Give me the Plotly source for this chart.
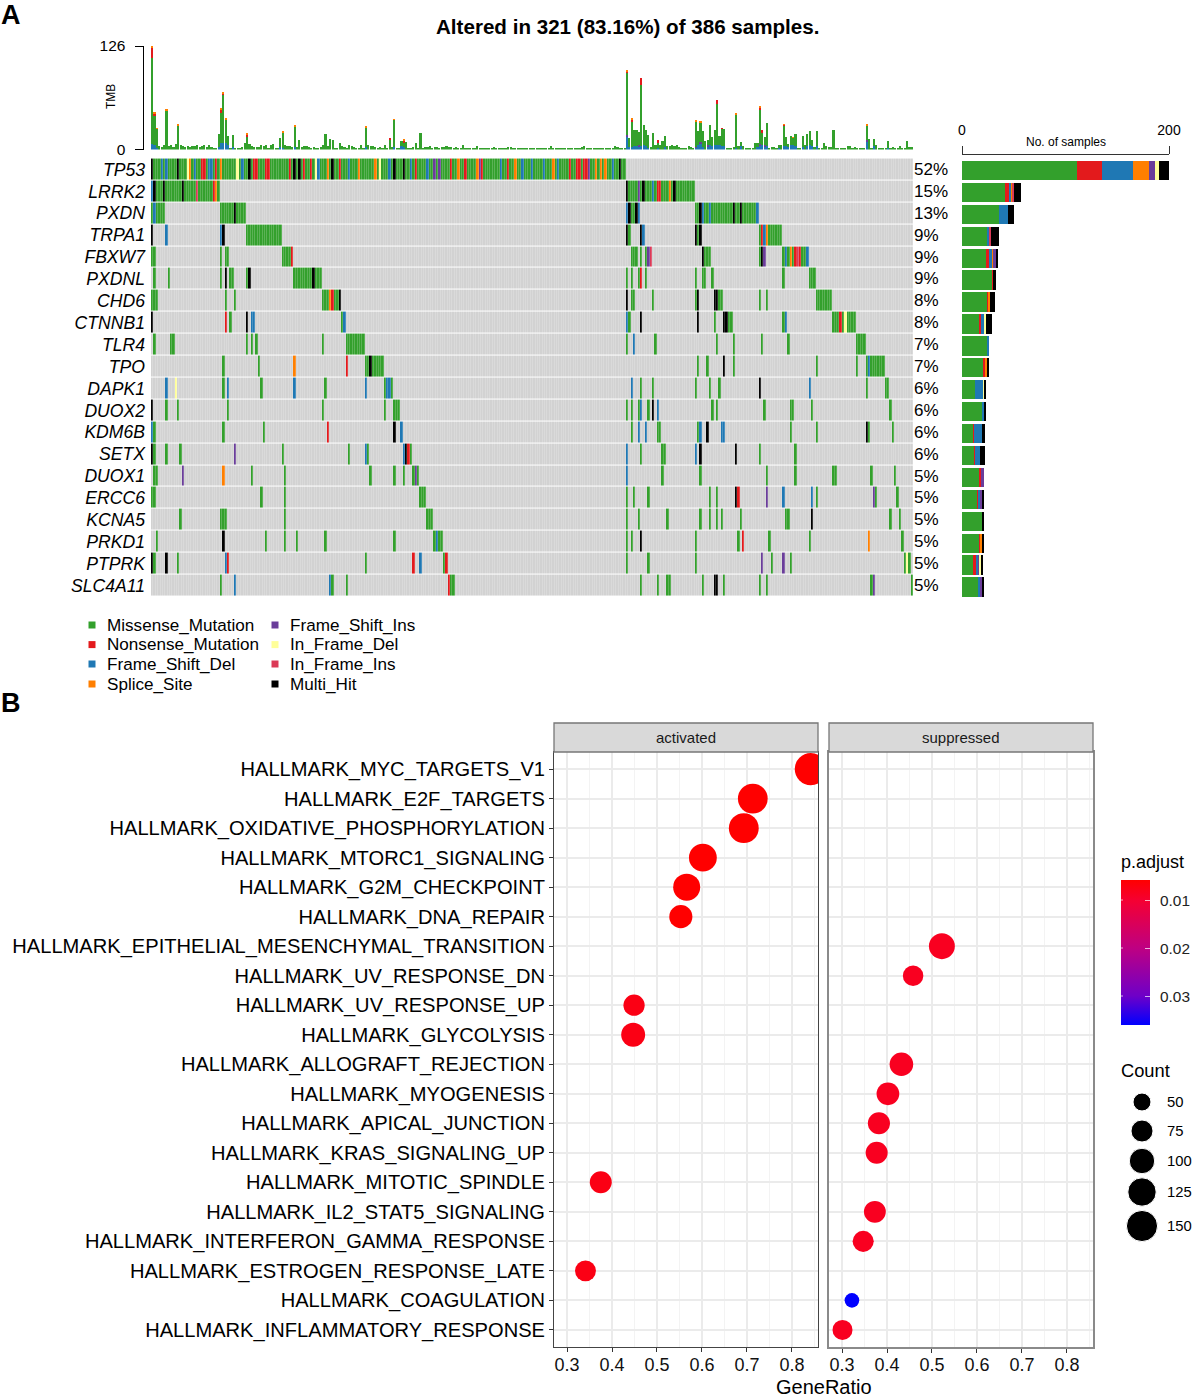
import re
import plotly.graph_objects as go

W = 1193
H = 1397

genes = ["TP53", "LRRK2", "PXDN", "TRPA1", "FBXW7", "PXDNL", "CHD6", "CTNNB1", "TLR4", "TPO",
         "DAPK1", "DUOX2", "KDM6B", "SETX", "DUOX1", "ERCC6", "KCNA5", "PRKD1", "PTPRK", "SLC4A11"]
percent = ["52%", "15%", "13%", "9%", "9%", "9%", "8%", "8%", "7%", "7%",
           "6%", "6%", "6%", "6%", "5%", "5%", "5%", "5%", "5%", "5%"]

mutation_types = ["Missense_Mutation", "Nonsense_Mutation", "Frame_Shift_Del", "Splice_Site",
                  "Frame_Shift_Ins", "In_Frame_Del", "In_Frame_Ins", "Multi_Hit"]
mutation_colors = ["#33A02C", "#E31A1C", "#1F78B4", "#FF7F00", "#6A3D9A", "#FFFF99", "#DB3A57", "#000000"]
type_codes = "MNDSILFH"

# oncoplot cells per gene: a or a-b is missense, a + letter overrides the type of that sample
cells_TP53 = "0-199 0H 4D 6D 11H 15L 16S 18D 21N 22N 24D 25D 27N 29S 36L 38D 41H 43N 44N 48N 49N 58N 60H 62H 64N 67N 69L 70D 74S 76H 79N 83D 87S 94S 96L 100D 102H 106H 109D 111N 116D 119I 121I 126N 129S 132N 137S 138I 139N 147D 150N 153S 156D 160D 165D 169S 171D 176N 179N 180N 182N 183N 184I 187S 189S 191S 194D 197H"
cells_LRRK2 = "0-28 0D 1H 5H 13H 19F 26N 27S 200-228 200H 205I 207H 211D 213N 214N 218S 220H"
cells_PXDN = "0-5 1D 29-39 35H 200-205 200D 201H 204H 205D 229-255 231H 232D 235D 245H 248H 255D"
cells_TRPA1 = "0H 6D 29D 30H 40-54 200H 201 206H 207D 229H 230 231H 256-265 257N 258D 259S"
cells_FBXW7 = "0-1 29 31-32 55-59 59N 202-204 206 208 209I 210F 232H 233-235 256 257H 258I 266-276 267D 269S 271N 272F 273N 276D"
cells_PXDNL = "1 7 29 31H 33-34 40 41H 60-71 68H 200 202 205 206N 208 229 232-233 236 266 277-279"
cells_CHD6 = "0-2 31 35 72-79 75S 76N 79H 200H 202-203 211 229 230H 237H 238H 239-240 256 259 280-286"
cells_CTNNB1 = "0H 31N 33 40H 42D 43D 80 81D 200D 201 206H 230H 237 241H 242H 243-244 266 267D 287-296 290N 292L"
cells_TLR4 = "1 8-9 40 42 44 72 82-89 200 203D 212 238 245 257 268 297-300"
cells_TPO = "30 45 60S 82N 90-97 92H 230 234 241H 245 280 297 301-308 302D"
cells_DAPK1 = "6D 10L 30 32D 46 60D 73 90D 98-101 99D 100D 202D 206 211 229 235 239 256H 277D 301 309-310"
cells_DUOX2 = "0H 6 11 32 72 98 102-104 200 202 205 206D 209 211H 213D 236 238 258 269-270 278 311"
cells_KDM6B = "0D 1 30 47 74N 102H 105D 202 205D 208D 213-214 230 231D 234H 240D 241D 269 280 301H 302 312"
cells_SETX = "0H 1 6 12 35I 55 83 90D 91 106D 107H 108N 109 200D 206 215-216 229D 231H 246H 256 271"
cells_DUOX1 = "1-2 13I 30S 42 56 92 102 106 110 111I 112 200D 215 231 259 271 287-288 303 313"
cells_ERCC6 = "0-1 46 56 113-115 200 203 209 235 238 246H 247N 259I 266D 278D 280 304I 305 314"
cells_KCNA5 = "12 29-31 56 116-118 200 205 217 231 235 238 240 248 267-268 278H 311 315"
cells_PRKD1 = "2 30H 48 56 61 73 102 119 120D 121-122 200 202 206H 229 247 249N 260 277 302S 316"
cells_PTPRK = "0H 1 6H 11 31D 32N 90 110N 113D 123 124N 200 209 229 257I 261 266I 269 317 318L 319"
cells_SLC4A11 = "29 35D 75D 76 82 125N 126-127 206 213 217-218 232 237H 238H 241 256 259 303 304I 320"

gene_cells = [cells_TP53, cells_LRRK2, cells_PXDN, cells_TRPA1, cells_FBXW7, cells_PXDNL, cells_CHD6,
              cells_CTNNB1, cells_TLR4, cells_TPO, cells_DAPK1, cells_DUOX2, cells_KDM6B, cells_SETX,
              cells_DUOX1, cells_ERCC6, cells_KCNA5, cells_PRKD1, cells_PTPRK, cells_SLC4A11]

# TMB per sample
tmb_total = [126, 46, 26, 4, 3, 5, 49, 4, 5, 3, 7, 30, 5, 4, 3, 4, 3, 4, 4, 6,
             3, 4, 5, 3, 5, 3, 2, 2, 19, 50, 70, 38, 16, 2, 18, 2, 2, 2, 3, 8,
             19, 7, 4, 3, 3, 3, 5, 4, 5, 1, 5, 7, 2, 2, 14, 22, 5, 4, 4, 3,
             29, 3, 11, 3, 4, 4, 3, 2, 3, 1, 1, 3, 6, 19, 4, 13, 11, 1, 2, 8,
             4, 3, 1, 5, 4, 3, 2, 1, 5, 1, 28, 5, 4, 4, 3, 2, 3, 1, 6, 1,
             14, 3, 37, 2, 2, 10, 12, 9, 1, 2, 3, 8, 2, 20, 2, 3, 3, 4, 1, 3,
             3, 1, 3, 3, 4, 3, 3, 1, 3, 2, 1, 5, 1, 1, 1, 1, 1, 4, 1, 1,
             1, 1, 2, 2, 3, 1, 1, 1, 1, 1, 3, 3, 2, 2, 2, 1, 2, 1, 1, 2,
             1, 2, 1, 1, 1, 2, 1, 2, 4, 2, 2, 1, 1, 1, 1, 1, 2, 1, 1, 2,
             2, 3, 4, 2, 1, 1, 1, 1, 1, 2, 1, 1, 1, 1, 2, 4, 3, 1, 2, 1,
             97, 14, 38, 24, 24, 21, 87, 30, 24, 18, 3, 20, 5, 11, 5, 10, 16, 4, 4, 5,
             4, 5, 3, 2, 2, 2, 4, 3, 2, 35, 22, 34, 22, 10, 11, 30, 15, 24, 60, 17,
             26, 25, 2, 2, 1, 3, 44, 4, 9, 4, 2, 1, 1, 1, 8, 8, 52, 24, 15, 32,
             1, 3, 3, 1, 5, 6, 31, 15, 7, 17, 15, 19, 1, 1, 17, 6, 19, 22, 12, 3,
             22, 2, 1, 8, 4, 3, 3, 24, 1, 1, 2, 1, 1, 4, 4, 2, 3, 2, 1, 1,
             1, 30, 13, 2, 13, 5, 1, 1, 1, 1, 10, 2, 3, 2, 1, 4, 1, 1, 10, 3, 3]
tmb_frame_del = {0: 7, 1: 5, 2: 2, 28: 3, 29: 8, 30: 8, 31: 8, 32: 5, 34: 3, 54: 3, 55: 2, 60: 3, 90: 3, 102: 3,
                 105: 4, 106: 3, 200: 15, 201: 3, 202: 3, 203: 4, 204: 4, 205: 4, 206: 4, 207: 6, 208: 4, 209: 2,
                 213: 2, 216: 3, 229: 2, 230: 5, 231: 7, 232: 3, 234: 4, 235: 5, 236: 4, 237: 5, 238: 6, 239: 5,
                 240: 4, 241: 4, 246: 2, 248: 4, 255: 3, 256: 5, 257: 5, 258: 4, 259: 4, 264: 3, 266: 4, 267: 4,
                 268: 3, 269: 5, 270: 5, 271: 4, 274: 3, 276: 4, 277: 5, 278: 4, 280: 4, 301: 10, 304: 4, 310: 2}
tmb_frame_ins = {200: 3, 205: 1, 229: 1, 231: 2, 234: 1, 256: 2, 258: 1, 301: 2}
tmb_nonsense = {0: 12, 1: 3, 6: 1, 29: 4, 30: 1, 31: 1, 40: 2, 100: 2, 106: 2, 200: 1, 202: 3, 206: 9, 213: 3,
                238: 4, 240: 1, 256: 2, 257: 4, 266: 1}
tmb_splice = {0: 2, 1: 2, 2: 1, 6: 1, 11: 1, 29: 1, 30: 2, 31: 1, 40: 1, 55: 1, 60: 1, 90: 1, 102: 1, 106: 1,
              200: 2, 202: 1, 229: 1, 231: 1, 246: 1, 256: 1, 266: 1, 270: 1, 301: 1}

# no. of samples by mutation type, one value per gene
side_missense = [111, 42, 36, 24, 23, 29, 25, 16, 25, 21, 13, 19, 11, 12, 17, 15, 20, 16, 11, 15]
side_nonsense = [24, 3, 0, 0, 3, 1, 1, 2, 0, 1, 0, 0, 1, 1, 1, 1, 0, 2, 3, 0]
side_frame_del = [30, 3, 8, 3, 3, 0, 0, 4, 1, 0, 8, 2, 7, 4, 0, 1, 0, 0, 1, 3]
side_splice = [16, 1, 0, 0, 1, 0, 1, 0, 0, 2, 0, 0, 0, 0, 0, 0, 0, 1, 0, 0]
side_frame_ins = [5, 0, 0, 0, 3, 0, 0, 0, 0, 0, 0, 0, 0, 0, 3, 3, 0, 0, 2, 1]
side_inframe_del = [4, 0, 0, 0, 0, 0, 0, 1, 0, 0, 1, 0, 0, 0, 0, 0, 0, 0, 1, 0]
side_inframe_ins = [0, 1, 0, 1, 0, 0, 0, 0, 0, 0, 0, 0, 0, 0, 0, 0, 0, 0, 0, 0]
side_multi = [10, 7, 6, 8, 2, 3, 5, 6, 0, 2, 1, 2, 3, 5, 0, 1, 1, 2, 2, 2]

# GSEA dotplot
pathways = ["HALLMARK_MYC_TARGETS_V1", "HALLMARK_E2F_TARGETS", "HALLMARK_OXIDATIVE_PHOSPHORYLATION",
            "HALLMARK_MTORC1_SIGNALING", "HALLMARK_G2M_CHECKPOINT", "HALLMARK_DNA_REPAIR",
            "HALLMARK_EPITHELIAL_MESENCHYMAL_TRANSITION", "HALLMARK_UV_RESPONSE_DN", "HALLMARK_UV_RESPONSE_UP",
            "HALLMARK_GLYCOLYSIS", "HALLMARK_ALLOGRAFT_REJECTION", "HALLMARK_MYOGENESIS",
            "HALLMARK_APICAL_JUNCTION", "HALLMARK_KRAS_SIGNALING_UP", "HALLMARK_MITOTIC_SPINDLE",
            "HALLMARK_IL2_STAT5_SIGNALING", "HALLMARK_INTERFERON_GAMMA_RESPONSE", "HALLMARK_ESTROGEN_RESPONSE_LATE",
            "HALLMARK_COAGULATION", "HALLMARK_INFLAMMATORY_RESPONSE"]
activated_names = ["HALLMARK_MYC_TARGETS_V1", "HALLMARK_E2F_TARGETS", "HALLMARK_OXIDATIVE_PHOSPHORYLATION",
                   "HALLMARK_MTORC1_SIGNALING", "HALLMARK_G2M_CHECKPOINT", "HALLMARK_DNA_REPAIR",
                   "HALLMARK_UV_RESPONSE_UP", "HALLMARK_GLYCOLYSIS", "HALLMARK_MITOTIC_SPINDLE",
                   "HALLMARK_ESTROGEN_RESPONSE_LATE"]
activated_ratio = [0.842, 0.713, 0.693, 0.602, 0.566, 0.553, 0.449, 0.447, 0.375, 0.341]
activated_count = [160, 137, 138, 120, 113, 83, 70, 89, 75, 68]
activated_padj = [0.0058, 0.0058, 0.0058, 0.0058, 0.0058, 0.0058, 0.0075, 0.0075, 0.0075, 0.0075]
suppressed_names = ["HALLMARK_EPITHELIAL_MESENCHYMAL_TRANSITION", "HALLMARK_UV_RESPONSE_DN",
                    "HALLMARK_ALLOGRAFT_REJECTION", "HALLMARK_MYOGENESIS", "HALLMARK_APICAL_JUNCTION",
                    "HALLMARK_KRAS_SIGNALING_UP", "HALLMARK_IL2_STAT5_SIGNALING",
                    "HALLMARK_INTERFERON_GAMMA_RESPONSE", "HALLMARK_COAGULATION", "HALLMARK_INFLAMMATORY_RESPONSE"]
suppressed_ratio = [0.522, 0.458, 0.432, 0.402, 0.382, 0.377, 0.373, 0.347, 0.322, 0.301]
suppressed_count = [104, 65, 86, 80, 76, 75, 74, 69, 33, 62]
suppressed_padj = [0.0085, 0.0085, 0.0085, 0.0085, 0.0085, 0.0085, 0.0085, 0.0085, 0.036, 0.0085]

padj_ticks = [0.01, 0.02, 0.03]
count_legend = [50, 75, 100, 125, 150]


def px_x(a, b):
    return [a / W, b / W]


def px_y(top, bottom):
    return [1 - bottom / H, 1 - top / H]


def text(x, y, s, size, anchor="left", **kw):
    return dict(x=x / W, y=1 - y / H, xref="paper", yref="paper", text=s, showarrow=False, xanchor=anchor,
                yanchor="middle", font=dict(size=size, color=kw.pop("color", "black")), **kw)


def parse_cells(s):
    row = [0] * 321
    for tok in s.split():
        m = re.fullmatch(r"(\d+)(?:-(\d+))?([A-Z]?)", tok)
        a = int(m.group(1))
        b = int(m.group(2)) if m.group(2) else a
        code = type_codes.index(m.group(3)) + 1 if m.group(3) else 1
        for i in range(a, b + 1):
            row[i] = code
    return row


samples = list(range(321))
z = [parse_cells(s) for s in gene_cells]

fig = go.Figure()

# TMB
fd = [tmb_frame_del.get(i, 0) for i in samples]
fi = [tmb_frame_ins.get(i, 0) for i in samples]
ns = [tmb_nonsense.get(i, 0) for i in samples]
sp = [tmb_splice.get(i, 0) for i in samples]
ms = [max(t - a - b - c - d, 0) for t, a, b, c, d in zip(tmb_total, fd, fi, ns, sp)]
for vals, col in [(fd, "#1F78B4"), (fi, "#6A3D9A"), (ms, "#33A02C"), (ns, "#E31A1C"), (sp, "#FF7F00")]:
    fig.add_trace(go.Bar(x=samples, y=vals, marker=dict(color=col, line=dict(width=0)), xaxis="x", yaxis="y",
                         showlegend=False, hoverinfo="skip"))

# oncoplot
scale = []
palette = ["#D2D2D2"] + mutation_colors
for i, c in enumerate(palette):
    scale.append([i / 9, c])
    scale.append([(i + 1) / 9, c])
fig.add_trace(go.Heatmap(z=z, x=samples, y=genes, zmin=0, zmax=9, colorscale=scale, showscale=False, xgap=0.2,
                         ygap=1, xaxis="x2", yaxis="y2", hoverinfo="skip"))

# side bars
side_values = [side_missense, side_nonsense, side_frame_del, side_splice, side_frame_ins, side_inframe_del,
               side_inframe_ins, side_multi]
for vals, col, name in zip(side_values, mutation_colors, mutation_types):
    fig.add_trace(go.Bar(x=vals, y=genes, orientation="h", name=name, width=0.88,
                         marker=dict(color=col, line=dict(width=0)), xaxis="x3", yaxis="y3", showlegend=False))

# dotplot, p.adjust is negated so the colour bar reads small values at the top
sizeref = 0.31
fig.add_trace(go.Scatter(x=activated_ratio, y=activated_names, mode="markers", xaxis="x4", yaxis="y4",
                         marker=dict(size=activated_count, sizemode="area", sizeref=sizeref, opacity=1,
                                     color=[-p for p in activated_padj], coloraxis="coloraxis", line=dict(width=0)),
                         showlegend=False))
fig.add_trace(go.Scatter(x=suppressed_ratio, y=suppressed_names, mode="markers", xaxis="x5", yaxis="y5",
                         marker=dict(size=suppressed_count, sizemode="area", sizeref=sizeref, opacity=1,
                                     color=[-p for p in suppressed_padj], coloraxis="coloraxis", line=dict(width=0)),
                         showlegend=False))

# count legend
legend_y = [1102, 1131, 1161, 1192, 1226]
fig.add_trace(go.Scatter(x=[0] * 5, y=legend_y, mode="markers", xaxis="x6", yaxis="y6",
                         marker=dict(size=count_legend, sizemode="area", sizeref=sizeref, color="black", opacity=1),
                         showlegend=False, hoverinfo="skip"))

dot_x = dict(range=[0.271, 0.858], tick0=0.3, dtick=0.1, showgrid=True, gridcolor="#EBEBEB", gridwidth=1.5,
             minor=dict(dtick=0.05, showgrid=True, gridcolor="#F3F3F3", gridwidth=1), zeroline=False, showline=True,
             mirror=True, ticks="outside", ticklen=4, tickcolor="#333333", tickfont=dict(size=18, color="#111111"),
             ticklabelstandoff=-3)
dot_y = dict(type="category", categoryorder="array", categoryarray=pathways, range=[19.58, -0.58], showgrid=True,
             gridcolor="#EBEBEB", gridwidth=1.5, zeroline=False, showline=True, mirror=True)

fig.update_layout(
    width=W,
    height=H,
    margin=dict(l=0, r=0, t=0, b=0, autoexpand=False),
    paper_bgcolor="white",
    plot_bgcolor="white",
    font=dict(family="Liberation Sans", color="black"),
    barmode="stack",
    bargap=0.1,
    xaxis=dict(domain=px_x(151, 913), range=[-0.5, 320.5], visible=False),
    yaxis=dict(domain=px_y(46, 149.5), range=[0, 126], tickvals=[0, 126], anchor="free", position=142.7 / W,
               showline=True, linecolor="black", linewidth=1.3, ticks="outside", ticklen=8, tickcolor="black",
               showgrid=False, zeroline=False, tickfont=dict(size=15.5), ticklabelstandoff=6),
    xaxis2=dict(domain=px_x(151, 913), range=[-0.5, 320.5], visible=False, anchor="y2"),
    yaxis2=dict(domain=px_y(158, 597), autorange="reversed", anchor="x2", tickvals=genes,
                ticktext=["<i>%s</i>" % g for g in genes], tickfont=dict(size=17.6), showgrid=False, zeroline=False,
                ticks="", ticklabelstandoff=5),
    xaxis3=dict(domain=px_x(962, 1169), range=[0, 200], tickvals=[0, 200], side="top", anchor="free",
                position=1 - 154 / H, showline=True, linecolor="#333333", linewidth=1.2, ticks="outside", ticklen=8,
                tickcolor="#333333", showgrid=False, zeroline=False, tickfont=dict(size=14), ticklabelstandoff=5),
    yaxis3=dict(domain=px_y(159.5, 598), autorange="reversed", anchor="x3", visible=False),
    xaxis4=dict(domain=px_x(554, 818), anchor="y4", linecolor="#444444", linewidth=1, **dot_x),
    yaxis4=dict(domain=px_y(752, 1347), anchor="x4", linecolor="#444444", linewidth=1, ticks="outside", ticklen=4,
                tickcolor="#333333", tickfont=dict(size=20.1), **dot_y),
    xaxis5=dict(domain=px_x(829, 1093), anchor="y5", linecolor="#8A8A8A", linewidth=1.5, **dot_x),
    yaxis5=dict(domain=px_y(752, 1347), anchor="x5", linecolor="#8A8A8A", linewidth=1.5, showticklabels=False,
                ticks="", **dot_y),
    xaxis6=dict(domain=px_x(1122, 1162), range=[-1, 1], visible=False, anchor="y6"),
    yaxis6=dict(domain=px_y(1087, 1243), range=[1243, 1087], anchor="x6", visible=False),
    coloraxis=dict(cmin=-0.036, cmax=-0.0058,
                   colorscale=[[0, "#0000FF"], [0.2, "#6E00C8"], [0.53, "#BE0082"], [0.86, "#F50032"], [1, "#FF0000"]],
                   colorbar=dict(thicknessmode="pixels", thickness=29, lenmode="pixels", len=145, x=1121 / W,
                                 xanchor="left", xpad=0, ypad=0, y=1 - 880 / H, yanchor="top",
                                 tickvals=[-p for p in padj_ticks], showticklabels=False,
                                 ticks="inside", tickcolor="rgba(255,255,255,0.7)", ticklen=5, tickwidth=1,
                                 outlinewidth=0, title=dict(text=""))),
)

annotations = [
    text(-1, 15, "<b>A</b>", 27),
    text(-1, 703, "<b>B</b>", 27),
    text(627, 27, "<b>Altered in 321 (83.16%) of 386 samples.</b>", 20.6, anchor="center"),
    text(1065.5, 142, "No. of samples", 12, anchor="center"),
    text(686, 737.5, "activated", 15, anchor="center", color="#1A1A1A"),
    text(961, 737.5, "suppressed", 15, anchor="center", color="#1A1A1A"),
    text(823.5, 1387, "GeneRatio", 20, anchor="center"),
    text(1119, 862, "p.adjust", 18),
    text(1119, 1070, "Count", 18.3),
    dict(x=111 / W, y=1 - 97 / H, xref="paper", yref="paper", text="TMB", showarrow=False, textangle=-90,
         font=dict(size=12), xanchor="center", yanchor="middle"),
]
for g, p in zip(genes, percent):
    annotations.append(dict(x=912 / W, y=g, xref="paper", yref="y2", text=p, showarrow=False, xanchor="left",
                            font=dict(size=17)))

# colour bar labels and the left tick marks
padj_y = [900, 948, 996]
for p, py in zip(padj_ticks, padj_y):
    annotations.append(text(1158, py, str(p), 15.4, color="#222222"))
    annotations.append(dict(x=1121 / W, y=1 - py / H, xref="paper", yref="paper", text=" ", showarrow=True, ax=5, ay=0,
                            arrowhead=0, arrowwidth=1, arrowcolor="rgba(255,255,255,0.7)", standoff=0))

shapes = []
key_x = [92, 92, 92, 92, 275, 275, 275, 275]
key_y = [625, 644.6, 664, 684, 625, 644.6, 664, 684]
for name, col, kx, ky in zip(mutation_types, mutation_colors, key_x, key_y):
    shapes.append(dict(type="rect", xref="paper", yref="paper", x0=(kx - 3.5) / W, x1=(kx + 3.5) / W,
                       y0=1 - (ky + 3.5) / H, y1=1 - (ky - 3.5) / H, fillcolor=col, line=dict(width=0)))
    annotations.append(text(kx + 13, ky, name, 17.1))

for c, ly in zip(count_legend, legend_y):
    annotations.append(text(1164.5, ly, str(c), 14.8))

strips = [(554, 818), (829, 1093)]
for x0, x1 in strips:
    shapes.append(dict(type="rect", xref="paper", yref="paper", x0=x0 / W, x1=x1 / W, y0=1 - 752 / H, y1=1 - 723 / H,
                       fillcolor="#D9D9D9", line=dict(color="#777777", width=1.3)))

fig.update_layout(annotations=annotations, shapes=shapes)

fig.write_html("out.html", config={"displayModeBar": False}, post_script="document.body.style.margin='0';")
